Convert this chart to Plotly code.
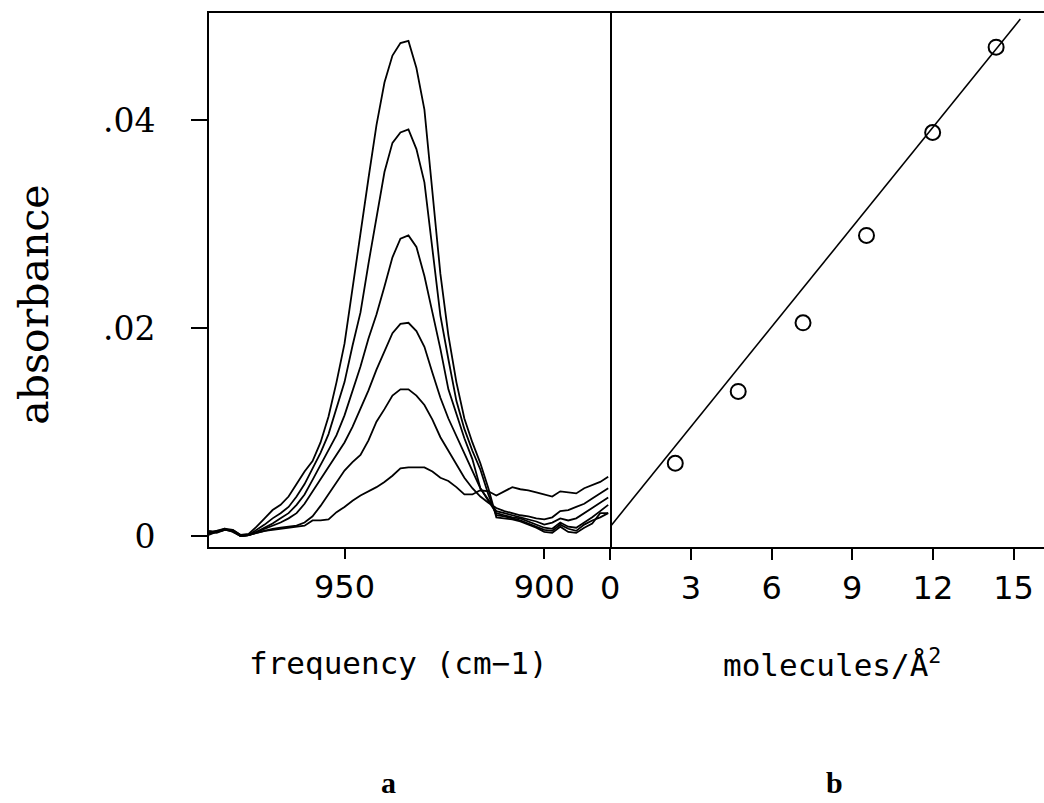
import plotly.graph_objects as go

# ---- data: IR spectra (panel a) ----
freq = [984, 982, 980, 978, 976, 974, 972, 970, 968, 966, 964, 962, 960, 958, 956, 954, 952, 950,
        948, 946, 944, 942, 940, 938, 936, 934, 932, 930, 928, 926, 924, 922, 920, 918, 916, 914,
        912, 910, 908, 906, 904, 902, 900, 898, 896, 894, 892, 890, 888, 886, 884]

spec1 = [0.0003, 0.0005, 0.0007, 0.0006, 0.0001, 0.0002, 0.0009, 0.0017, 0.0025, 0.0030, 0.0038, 0.0050,
         0.0062, 0.0072, 0.0090, 0.0115, 0.0148, 0.0185, 0.0238, 0.0296, 0.0344, 0.0395, 0.0436, 0.0462,
         0.0474, 0.0476, 0.0450, 0.0410, 0.0330, 0.0252, 0.0193, 0.0148, 0.0113, 0.0090, 0.0070, 0.0046,
         0.0018, 0.0017, 0.0016, 0.0014, 0.0011, 0.0008, 0.0004, 0.0003, 0.0009, 0.0004, 0.0003, 0.0008,
         0.0012, 0.0022, 0.0022]
spec2 = [0.0002, 0.0004, 0.0006, 0.0005, 0.0000, 0.0001, 0.0006, 0.0011, 0.0017, 0.0022, 0.0028, 0.0038,
         0.0050, 0.0065, 0.0080, 0.0098, 0.0122, 0.0148, 0.0183, 0.0215, 0.0262, 0.0307, 0.0350, 0.0378,
         0.0388, 0.0391, 0.0372, 0.0340, 0.0278, 0.0212, 0.0170, 0.0130, 0.0103, 0.0082, 0.0064, 0.0040,
         0.0020, 0.0019, 0.0017, 0.0015, 0.0012, 0.0009, 0.0006, 0.0005, 0.0011, 0.0007, 0.0005, 0.0011,
         0.0015, 0.0018, 0.0022]
spec3 = [0.0004, 0.0003, 0.0006, 0.0005, 0.0000, 0.0001, 0.0004, 0.0008, 0.0012, 0.0017, 0.0022, 0.0030,
         0.0040, 0.0054, 0.0068, 0.0082, 0.0097, 0.0116, 0.0140, 0.0163, 0.0190, 0.0213, 0.0240, 0.0268,
         0.0286, 0.0289, 0.0278, 0.0250, 0.0215, 0.0180, 0.0141, 0.0117, 0.0094, 0.0074, 0.0046, 0.0034,
         0.0022, 0.0020, 0.0018, 0.0017, 0.0014, 0.0011, 0.0008, 0.0007, 0.0013, 0.0009, 0.0008, 0.0013,
         0.0018, 0.0024, 0.0030]
spec4 = [0.0001, 0.0004, 0.0007, 0.0004, 0.0000, 0.0001, 0.0004, 0.0007, 0.0010, 0.0013, 0.0017, 0.0022,
         0.0031, 0.0043, 0.0055, 0.0067, 0.0078, 0.0090, 0.0105, 0.0122, 0.0140, 0.0160, 0.0178, 0.0195,
         0.0204, 0.0205, 0.0197, 0.0182, 0.0157, 0.0133, 0.0113, 0.0096, 0.0080, 0.0063, 0.0046, 0.0035,
         0.0024, 0.0022, 0.0020, 0.0018, 0.0016, 0.0014, 0.0011, 0.0013, 0.0017, 0.0015, 0.0017, 0.0022,
         0.0027, 0.0032, 0.0037]
spec5 = [0.0005, 0.0004, 0.0006, 0.0006, 0.0001, 0.0001, 0.0003, 0.0005, 0.0007, 0.0008, 0.0009, 0.0010,
         0.0013, 0.0019, 0.0029, 0.0040, 0.0052, 0.0063, 0.0071, 0.0078, 0.0092, 0.0110, 0.0122, 0.0135,
         0.0141, 0.0141, 0.0135, 0.0126, 0.0112, 0.0095, 0.0082, 0.0069, 0.0056, 0.0046, 0.0038, 0.0032,
         0.0027, 0.0024, 0.0022, 0.0020, 0.0019, 0.0017, 0.0016, 0.0018, 0.0024, 0.0025, 0.0028, 0.0031,
         0.0036, 0.0041, 0.0046]
spec6 = [0.0003, 0.0005, 0.0006, 0.0005, 0.0000, 0.0001, 0.0003, 0.0005, 0.0006, 0.0007, 0.0008, 0.0009,
         0.0010, 0.0015, 0.0015, 0.0016, 0.0023, 0.0028, 0.0034, 0.0039, 0.0043, 0.0047, 0.0052, 0.0058,
         0.0065, 0.0066, 0.0066, 0.0066, 0.0062, 0.0056, 0.0053, 0.0047, 0.0040, 0.0040, 0.0044, 0.0043,
         0.0039, 0.0043, 0.0047, 0.0045, 0.0044, 0.0042, 0.0040, 0.0038, 0.0043, 0.0042, 0.0041, 0.0046,
         0.0049, 0.0052, 0.0057]
spectra = [spec1, spec2, spec3, spec4, spec5, spec6]

# ---- data: peak absorbance vs coverage (panel b) ----
coverage = [2.42, 4.76, 7.17, 9.53, 11.99, 14.35]
peak_abs = [0.0070, 0.0139, 0.0205, 0.0289, 0.0388, 0.0470]
fit_intercept = 0.0009
fit_slope = 0.0032
fit_x = [0, 15.25]

y_ticks = [0, 0.02, 0.04]
y_ticktext = ["0", ".02", ".04"]
xa_ticks = [950, 900]
xb_ticks = [0, 3, 6, 9, 12, 15]

W, H = 1044, 803
def px(x):
    return x / W
def py(y):
    return 1 - y / H

LEFT, MID, TOP, BOT = 201, 606, 13, 553

fig = go.Figure()
for s in spectra:
    fig.add_trace(go.Scatter(x=freq, y=s, mode="lines", xaxis="x", yaxis="y",
                             line=dict(color="black", width=1.8), showlegend=False,
                             hoverinfo="skip"))

fit_y = [fit_intercept + fit_slope * v for v in fit_x]
fig.add_trace(go.Scatter(x=fit_x, y=fit_y, mode="lines", xaxis="x2", yaxis="y2",
                         line=dict(color="black", width=1.6), showlegend=False))
fig.add_trace(go.Scatter(x=coverage, y=peak_abs, mode="markers", xaxis="x2", yaxis="y2",
                         marker=dict(symbol="circle-open", size=15, color="black",
                                     line=dict(width=2, color="black")),
                         showlegend=False))

ytickfont = dict(family="DejaVu Serif", size=33, color="black")
xtickfont = dict(family="DejaVu Sans", size=32, color="black")
yr = [-0.0011, 0.0503]

fig.update_layout(
    width=W, height=H,
    margin=dict(l=0, r=0, t=0, b=0),
    paper_bgcolor="white", plot_bgcolor="white",
    xaxis=dict(domain=[px(LEFT), px(MID)], range=[983.9, 883.5], anchor="y",
               tickvals=xa_ticks, ticks="outside", ticklen=10, tickwidth=1.5, tickcolor="black",
               showline=True, mirror=True, linecolor="black", linewidth=1.8,
               showgrid=False, zeroline=False, tickfont=xtickfont, ticklabelstandoff=0),
    yaxis=dict(domain=[py(BOT), py(TOP)], range=yr, anchor="x",
               tickvals=y_ticks, ticktext=y_ticktext, ticks="outside", ticklen=16,
               tickwidth=1.5, tickcolor="black",
               showline=True, mirror=True, linecolor="black", linewidth=1.8,
               showgrid=False, zeroline=False, tickfont=ytickfont, ticklabelstandoff=29),
    xaxis2=dict(domain=[px(MID), 1.0], range=[0, 16.13], anchor="y2",
                tickvals=xb_ticks, ticks="outside", ticklen=11, tickwidth=1.5, tickcolor="black",
                showline=True, mirror=True, linecolor="black", linewidth=1.8,
                showgrid=False, zeroline=False, tickfont=xtickfont, ticklabelstandoff=0),
    yaxis2=dict(domain=[py(BOT), py(TOP)], range=yr, anchor="x2",
                showticklabels=False, ticks="", showline=False,
                showgrid=False, zeroline=False),
    annotations=[
        dict(text="absorbance", x=px(24), y=py(308), xref="paper", yref="paper",
             xanchor="center", yanchor="middle", textangle=-90, showarrow=False,
             font=dict(family="DejaVu Serif", size=41, color="black")),
        dict(text="frequency (cm\u22121)", x=px(392), y=py(670), xref="paper", yref="paper",
             xanchor="center", yanchor="middle",
             showarrow=False, font=dict(family="DejaVu Sans Mono", size=31, color="black")),
        dict(text="molecules/\u00c5<sup>2</sup>", x=px(830), y=py(670), xref="paper", yref="paper",
             xanchor="center", yanchor="middle",
             showarrow=False, font=dict(family="DejaVu Sans Mono", size=31, color="black")),
        dict(text="<b>a</b>", x=px(382), y=py(790), xref="paper", yref="paper",
             xanchor="center", yanchor="middle",
             showarrow=False, font=dict(family="Liberation Serif", size=30, color="black")),
        dict(text="<b>b</b>", x=px(832), y=py(790), xref="paper", yref="paper",
             xanchor="center", yanchor="middle",
             showarrow=False, font=dict(family="Liberation Serif", size=30, color="black")),
    ],
)

fig.write_html("out.html")
